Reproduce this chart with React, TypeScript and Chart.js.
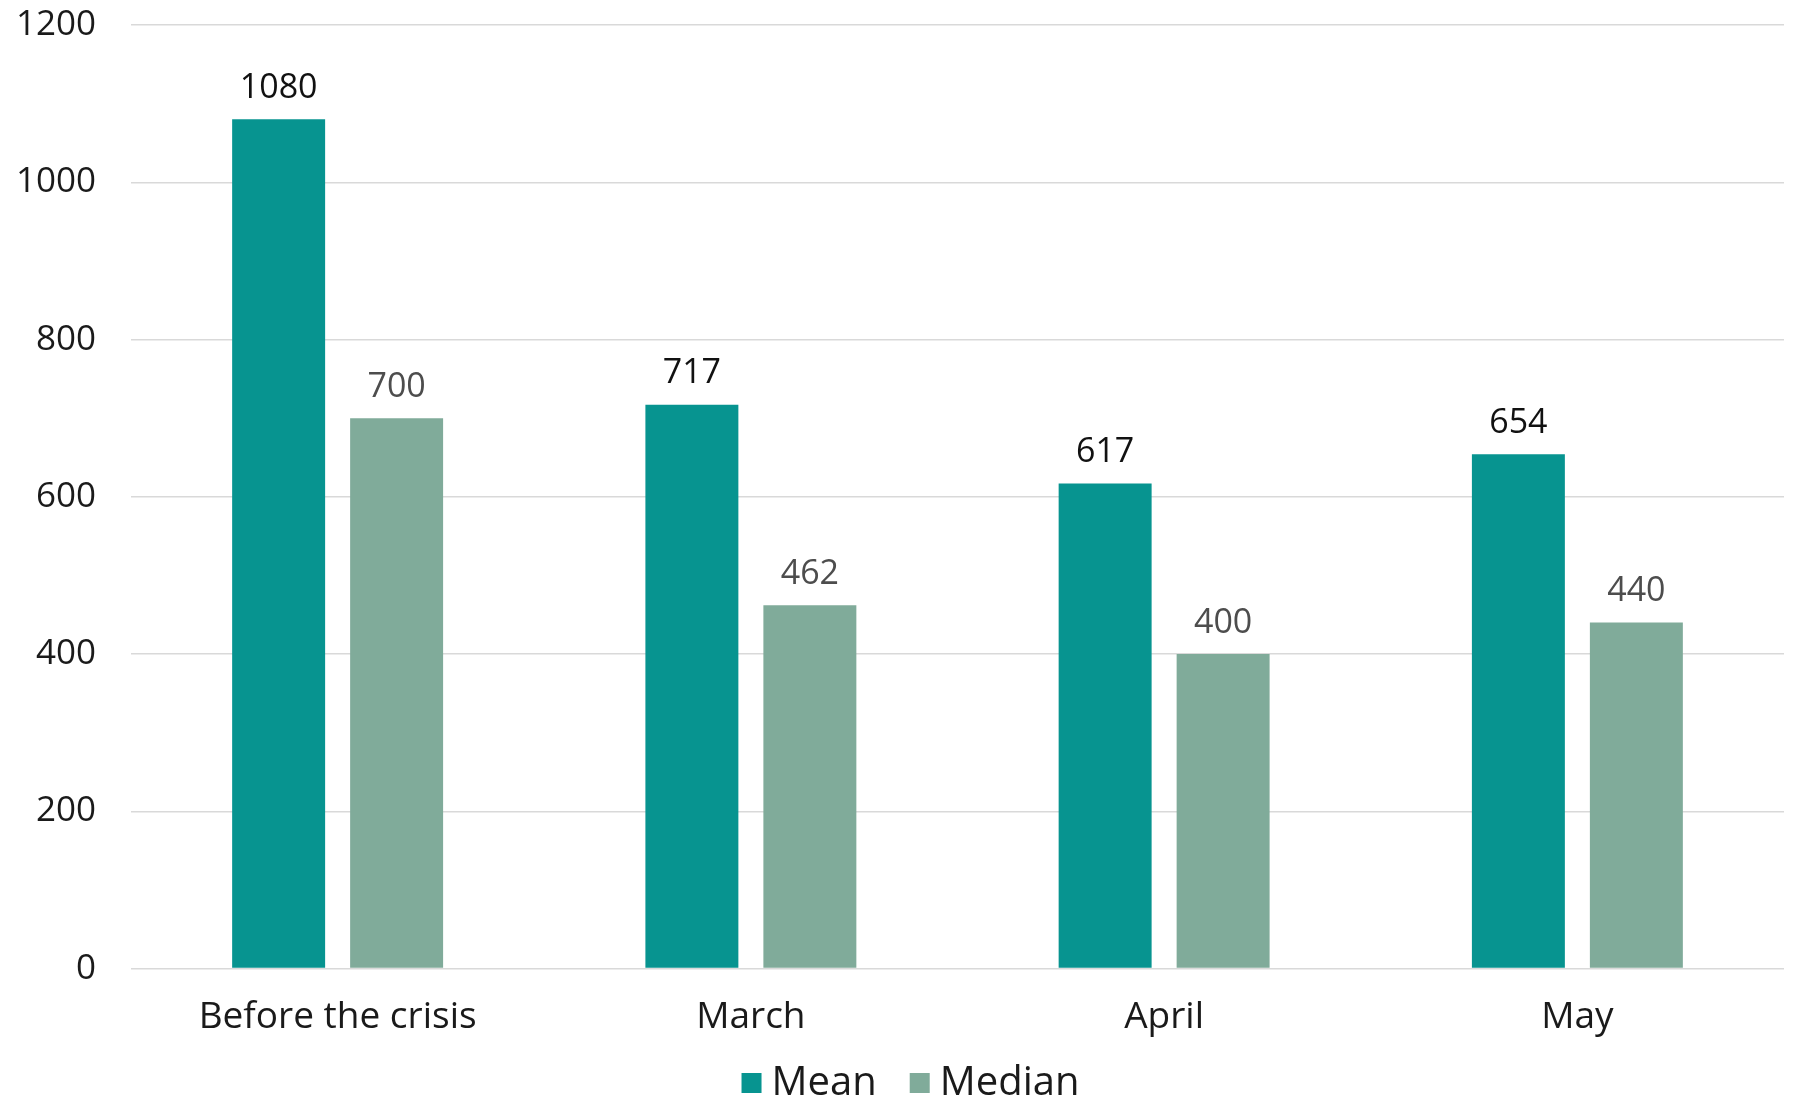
import React, { useEffect, useRef } from "react";
import { Chart, registerables } from "chart.js";

Chart.register(...registerables);

const categories = ["Before the crisis", "March", "April", "May"];
const meanValues = [1080, 717, 617, 654];
const medianValues = [700, 462, 400, 440];
const yTicks = [0, 200, 400, 600, 800, 1000, 1200];

const MEAN_COLOR = "#079490";
const MEDIAN_COLOR = "#80AB9A";
const LABEL_COLORS = ["#111111", "#4d4d4d"];
const FONT = "'Open Sans'";

const dataLabelPlugin = {
  id: "dataLabels",
  afterDatasetsDraw(chart: any) {
    const ctx = chart.ctx;
    ctx.save();
    ctx.font = `34px ${FONT}`;
    ctx.textAlign = "center";
    ctx.textBaseline = "bottom";
    chart.data.datasets.forEach((ds: any, di: number) => {
      const meta = chart.getDatasetMeta(di);
      ctx.fillStyle = LABEL_COLORS[di];
      meta.data.forEach((bar: any, i: number) => {
        ctx.fillText(String(ds.data[i]), bar.x, bar.y - 14);
      });
    });
    ctx.restore();
  },
};

const legendPlugin = {
  id: "customLegend",
  afterDraw(chart: any) {
    const ctx = chart.ctx;
    ctx.save();
    ctx.font = `40px ${FONT}`;
    ctx.textBaseline = "middle";
    ctx.textAlign = "left";
    const box = 20;
    const gap = 10;
    const itemGap = 33;
    const items = chart.data.datasets.map((ds: any) => ({
      label: ds.label,
      color: ds.backgroundColor,
      w: ctx.measureText(ds.label).width,
    }));
    const total = items.reduce((s: number, it: any) => s + box + gap + it.w, 0) + itemGap * (items.length - 1);
    let x = chart.width / 2 + 14 - total / 2;
    const y = chart.height - 15;
    items.forEach((it: any) => {
      ctx.fillStyle = it.color;
      ctx.fillRect(x, y - box / 2, box, box);
      x += box + gap;
      ctx.fillStyle = "#1a1a1a";
      ctx.fillText(it.label, x, y + 1);
      x += it.w + itemGap;
    });
    ctx.restore();
  },
};

export default function App() {
  const ref = useRef<HTMLCanvasElement>(null);
  useEffect(() => {
    if (!ref.current) return;
    const chart = new Chart(ref.current, {
      type: "bar",
      data: {
        labels: categories,
        datasets: [
          { label: "Mean", data: meanValues, backgroundColor: MEAN_COLOR, categoryPercentage: 0.571, barPercentage: 0.788 },
          { label: "Median", data: medianValues, backgroundColor: MEDIAN_COLOR, categoryPercentage: 0.571, barPercentage: 0.788 },
        ],
      },
      options: {
        animation: false,
        responsive: false,
        maintainAspectRatio: false,
        layout: { padding: { top: 25, right: 9, left: 0, bottom: 39 } },
        plugins: {
          tooltip: { enabled: false },
          legend: { display: false },
        },
        scales: {
          x: {
            grid: { display: false },
            border: { display: false },
            ticks: { font: { family: FONT, size: 37 }, color: "#1a1a1a", padding: 19 },
          },
          y: {
            min: 0,
            max: 1200,
            afterBuildTicks: (scale: any) => {
              scale.ticks = yTicks.map((v) => ({ value: v }));
            },
            afterFit: (scale: any) => {
              scale.width = 131;
              scale.paddingTop = 0;
              scale.paddingBottom = 0;
            },
            grid: { color: "#d9d9d9", lineWidth: 1.5, drawTicks: false },
            border: { display: false },
            ticks: {
              font: { family: FONT, size: 35 },
              color: "#1a1a1a",
              padding: 35,
              callback: (v: any) => String(v),
            },
          },
        },
      },
      plugins: [dataLabelPlugin, legendPlugin],
    });
    return () => chart.destroy();
  }, []);
  return (
    <div style={{ position: "fixed", left: 0, top: 0, width: 1793, height: 1098, background: "#fff" }}>
      <canvas ref={ref} width={1793} height={1098} style={{ width: 1793, height: 1098 }} />
    </div>
  );
}
